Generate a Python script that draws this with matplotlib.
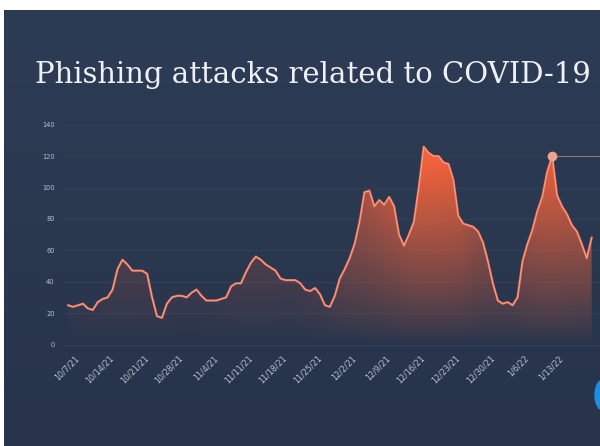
import numpy as np
import pandas as pd
import matplotlib
matplotlib.use("Agg")
import matplotlib.pyplot as plt
import matplotlib.dates as mdates
from matplotlib.colors import to_rgb
from matplotlib.patches import Ellipse

# ---- data -------------------------------------------------------------
title = "Phishing attacks related to COVID-19"
start_date = "2021-10-05"

# daily count of COVID-19 themed phishing attacks
attacks = [
    25, 24, 25, 26, 23, 22, 27, 29, 30, 35,
    48, 54, 51, 47, 47, 47, 45, 30, 18, 17,
    26, 30, 31, 31, 30, 33, 35, 31, 28, 28,
    28, 29, 30, 37, 39, 39, 46, 52, 56, 54,
    51, 49, 47, 42, 41, 41, 41, 39, 35, 34,
    36, 32, 25, 24, 31, 42, 48, 55, 64, 78,
    97, 98, 88, 92, 89, 94, 88, 70, 63, 70,
    78, 100, 126, 122, 120, 120, 116, 115, 105, 82,
    77, 76, 75, 72, 65, 53, 39, 28, 26, 27,
    25, 30, 53, 64, 73, 85, 94, 110, 120, 95,
    88, 83, 76, 72, 64, 55, 68,
]

tick_dates = [
    "2021-10-07", "2021-10-14", "2021-10-21", "2021-10-28", "2021-11-04",
    "2021-11-11", "2021-11-18", "2021-11-25", "2021-12-02", "2021-12-09",
    "2021-12-16", "2021-12-23", "2021-12-30", "2022-01-06", "2022-01-13",
]
tick_labels = [
    "10/7/21", "10/14/21", "10/21/21", "10/28/21", "11/4/21",
    "11/11/21", "11/18/21", "11/25/21", "12/2/21", "12/9/21",
    "12/16/21", "12/23/21", "12/30/21", "1/6/22", "1/13/22",
]
y_ticks = [0, 20, 40, 60, 80, 100, 120, 140]
highlight_date = "2022-01-11"

# ---- styling ------------------------------------------------------------
BG_TOP = "#2d3c55"
BG_BOTTOM = "#27344b"
ORANGE = "#f2623b"
LINE = "#ec7057"
LINE_CORE = "#f9c0aa"
TEXT = "#eef1f5"
TICK_TEXT = "#b9c0cc"

dates = pd.date_range(start_date, periods=len(attacks), freq="D")
xnum = mdates.date2num(dates)
vals = np.asarray(attacks, dtype=float)

fig = plt.figure(figsize=(6, 4.46), dpi=100, facecolor="white")
W, H = 600, 446

# dark panel with a soft vertical shade
bg = fig.add_axes([4 / W, 0, 596 / W, 436 / H])
bg.set_axis_off()
shade = np.linspace(0, 1, 256)[:, None]
c0, c1 = np.array(to_rgb(BG_TOP)), np.array(to_rgb(BG_BOTTOM))
bg.imshow(c0 * (1 - shade[..., None]) + c1 * shade[..., None],
          aspect="auto", extent=[0, 1, 0, 1], origin="upper")
bg.set_xlim(0, 1)
bg.set_ylim(0, 1)

# blue emblem peeking in at the lower right
fig.patches.append(Ellipse((603 / W, 1 - 395 / H), 16 / W, 30 / H,
                           transform=fig.transFigure, color="#1b8fe2",
                           zorder=3))

fig.text(35 / W, 1 - 83 / H, title, family="DejaVu Serif", fontsize=21,
         color=TEXT, va="baseline", ha="left")

# ---- chart ------------------------------------------------------------
ax = fig.add_axes([63 / W, (H - 350) / H, 537 / W, 230 / H])
ax.patch.set_alpha(0)

t0 = mdates.date2num(pd.Timestamp(tick_dates[0]))
px_per_day = 4.939
xmin = t0 + (63 - 78) / px_per_day
xmax = t0 + (600 - 78) / px_per_day
ax.set_xlim(xmin, xmax)
ax.set_ylim(-3.5, 143)

# gradient fill under the curve; it glows stronger around the big surges
nx, ny = 900, 500
gx = np.linspace(xmin, xmax, nx)
gy = np.linspace(-3.5, 143, ny)
surge = (pd.Series(vals).rolling(15, center=True, min_periods=1).max()
         .rolling(11, center=True, min_periods=1).mean().to_numpy())
local = np.interp(gx, xnum, surge)
top = vals.max()
alpha = np.clip(gy[:, None] / top, 0, 1) ** 0.9 * (local[None, :] / top) ** 1.3
alpha = np.clip(alpha * 1.08, 0, 1)
rgba = np.zeros((ny, nx, 4))
rgba[..., :3] = to_rgb(ORANGE)
rgba[..., 3] = alpha
img = ax.imshow(rgba, extent=[xmin, xmax, -3.5, 143], origin="lower",
                aspect="auto", zorder=2, interpolation="bilinear")
area = ax.fill_between(xnum, vals, 0, facecolor="none", edgecolor="none")
img.set_clip_path(area.get_paths()[0], transform=ax.transData)

ax.plot(xnum, vals, color=LINE, lw=1.6, zorder=3, solid_joinstyle="round")
ax.plot(xnum, vals, color=LINE_CORE, lw=0.5, alpha=0.8, zorder=4,
        solid_joinstyle="round")

# highlighted day with a guide running to the right edge
hx = mdates.date2num(pd.Timestamp(highlight_date))
hv = vals[list(dates).index(pd.Timestamp(highlight_date))]
ax.hlines(hv, hx, xmax, color="#a88682", lw=0.8, alpha=0.8, zorder=3)
ax.plot([hx], [hv], "o", ms=7, color="#f3a38c", mec="none", zorder=5)

ax.set_yticks(y_ticks)
ax.grid(axis="y", color="#3a4963", lw=0.6, alpha=0.6, zorder=0)
ax.set_xticks(mdates.date2num(pd.to_datetime(tick_dates)))
ax.set_xticklabels(tick_labels, rotation=45, ha="right", va="center",
                   rotation_mode="anchor")
ax.tick_params(axis="x", length=0, pad=5, labelsize=5.8, labelcolor=TICK_TEXT)
ax.tick_params(axis="y", length=0, pad=6, labelsize=4.8, labelcolor=TICK_TEXT)
for s in ax.spines.values():
    s.set_visible(False)

fig.savefig("out.png", dpi=100, facecolor="white")
